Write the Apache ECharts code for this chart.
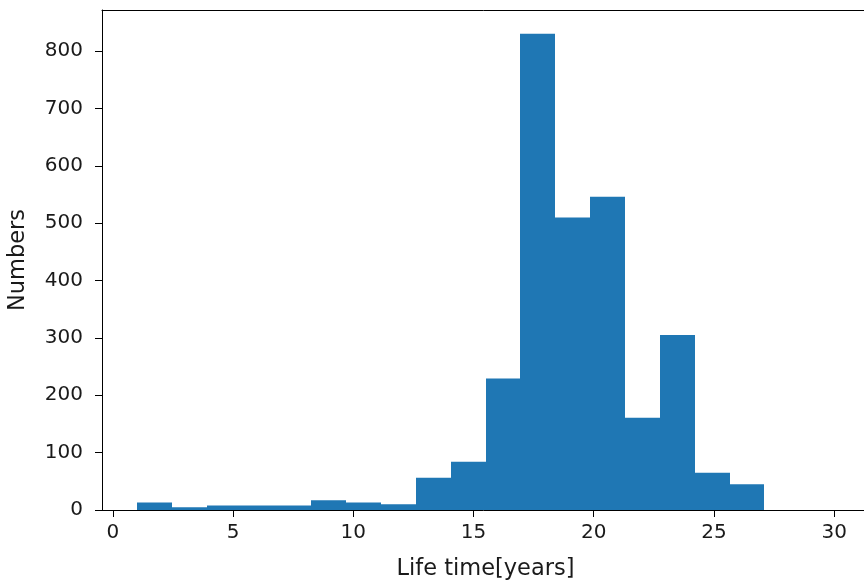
<!DOCTYPE html>
<html>
<head>
<meta charset="utf-8">
<title>Life time histogram</title>
<script src="https://cdn.jsdelivr.net/npm/echarts@6/dist/echarts.min.js"></script>
<style>
  html, body { margin: 0; padding: 0; background: #fff; overflow: hidden; }
  #chart { width: 864px; height: 583px; }
</style>
</head>
<body>
<div id="chart"></div>
<script>
// Histogram bin edges (years) and counts per bin
const binEdges = [1, 2.45, 3.9, 5.35, 6.8, 8.25, 9.7, 11.15, 12.6, 14.05, 15.5,
                  16.95, 18.4, 19.85, 21.3, 22.75, 24.2, 25.65, 27.1, 28.55, 30];
const binCounts = [13, 5, 8, 8, 8, 17, 13, 10, 56, 84, 229,
                   830, 510, 546, 161, 305, 65, 45, 0, 0];

// Tick labels
const xTicks = [0, 5, 10, 15, 20, 25, 30];
const yTicks = [0, 100, 200, 300, 400, 500, 600, 700, 800];

const xLabel = 'Life time[years]';
const yLabel = 'Numbers';

const bins = binCounts.map((c, i) => [binEdges[i], binEdges[i + 1], c]);

const span = binEdges[binEdges.length - 1] - binEdges[0];
const xMin = binEdges[0] - 0.05 * span;
const xMax = binEdges[binEdges.length - 1] + 0.05 * span;
const yMax = Math.max(...binCounts) * 1.05;

const textColor = '#1a1a1a';
const font = 'DejaVu Sans';
const spine = { color: '#000', width: 1 };

const chart = echarts.init(document.getElementById('chart'), null, { renderer: 'canvas' });
chart.setOption({
  animation: false,
  backgroundColor: '#fff',
  grid: {
    // the plot area's right side lies just past the canvas edge
    left: 102, top: 10, width: 767, height: 500,
    outerBoundsMode: 'none',
    show: false
  },
  xAxis: [{
    type: 'value',
    min: xMin, max: xMax,
    name: xLabel,
    nameLocation: 'middle',
    nameGap: 48,
    nameTextStyle: { fontFamily: font, fontSize: 22.5, color: textColor },
    axisLine: { show: true, onZero: false, lineStyle: spine },
    axisTick: { show: true, length: 7, customValues: xTicks, lineStyle: spine },
    axisLabel: { customValues: xTicks, margin: 13, fontFamily: font, fontSize: 20, color: textColor },
    splitLine: { show: false }
  }, {
    // top frame line only
    type: 'value',
    position: 'top',
    min: xMin, max: xMax,
    axisLine: { show: true, onZero: false, lineStyle: spine },
    axisTick: { show: false },
    axisLabel: { show: false },
    splitLine: { show: false }
  }],
  yAxis: {
    type: 'value',
    min: 0, max: yMax,
    name: yLabel,
    nameLocation: 'middle',
    nameGap: 72,
    nameTextStyle: { fontFamily: font, fontSize: 22.5, color: textColor },
    axisLine: { show: true, onZero: false, lineStyle: spine },
    axisTick: { show: true, length: 7, customValues: yTicks, lineStyle: spine },
    axisLabel: { customValues: yTicks, margin: 19, fontFamily: font, fontSize: 20, color: textColor },
    splitLine: { show: false }
  },
  series: [{
    type: 'custom',
    xAxisIndex: 0,
    data: bins,
    encode: { x: [0, 1], y: 2 },
    renderItem: function (params, api) {
      const p0 = api.coord([api.value(0), api.value(2)]);
      const p1 = api.coord([api.value(1), 0]);
      // snap horizontal edges so neighbouring bars meet without seams
      const x0 = Math.round(p0[0]);
      const x1 = Math.round(p1[0]);
      return {
        type: 'rect',
        shape: { x: x0, y: p0[1], width: x1 - x0, height: p1[1] - p0[1] },
        style: { fill: '#1f77b4' }
      };
    }
  }]
});
</script>
</body>
</html>
